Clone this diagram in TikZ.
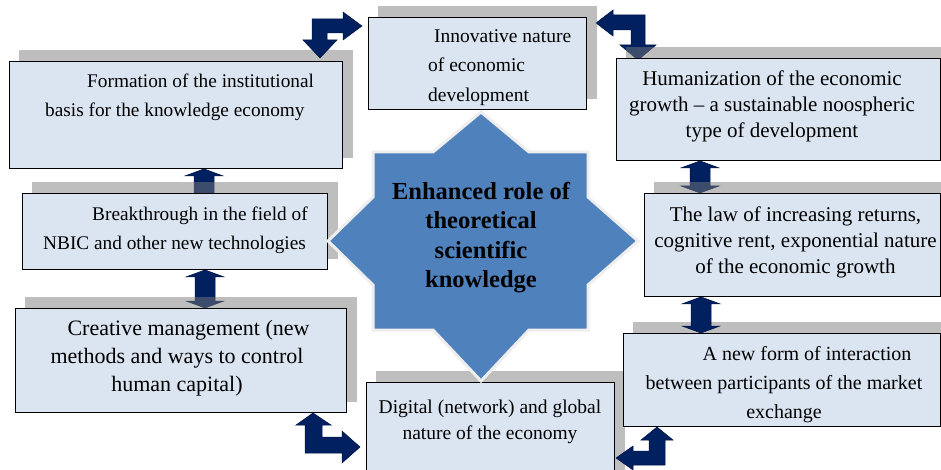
\documentclass[tikz,border=0pt]{standalone}
\usepackage{fontspec}
\setmainfont{Liberation Serif}
\usetikzlibrary{calc}
\definecolor{boxfill}{HTML}{DBE5F1}
\definecolor{navyfill}{HTML}{002060}
\definecolor{navyline}{HTML}{001540}
\definecolor{starblue}{HTML}{4F81BD}
\definecolor{shadowgray}{HTML}{7B7B7B}
\definecolor{starline}{HTML}{EEEEEE}
\pgfdeclarelayer{under}
\pgfdeclarelayer{shadows}
\pgfdeclarelayer{over}
\pgfsetlayers{under,shadows,over,main}
\tikzset{
  infobox/.style={draw=black, line width=0.9pt, fill=boxfill, anchor=north west, inner sep=0pt},
  boxshade/.style={fill=shadowgray, fill opacity=0.49},
  blockarrow/.style={fill=navyfill, draw=navyline, line width=0.5pt, line join=miter},
  boxtext/.style={inner sep=0pt, text=black},
  starshape/.style={fill=starblue, draw=starline, line width=3pt, line join=miter},
}
\newcommand\vdblarrow[3][]{%
  \path[blockarrow,#1] let \p1=(#2), \p2=(#3) in
    (\x1,\y1) -- ({\x1+19pt},{\y1-7pt}) -- ({\x1+10pt},{\y1-7pt}) -- ({\x1+10pt},{\y2+7pt})
    -- ({\x1+19pt},{\y2+7pt}) -- (\x1,\y2) -- ({\x1-19pt},{\y2+7pt}) -- ({\x1-10pt},{\y2+7pt})
    -- ({\x1-10pt},{\y1-7pt}) -- ({\x1-19pt},{\y1-7pt}) -- cycle;}
\newcommand\dropshadow[1]{%
  \fill[boxshade] ($(#1.north west)+(10,-11)$) rectangle ($(#1.south east)+(10,-11)$);}
\begin{document}
\begin{tikzpicture}[x=1pt,y=-1pt]
\useasboundingbox (0,0) rectangle (941,470);
\clip (0,0) rectangle (941,470);

% boxes
\node[infobox, minimum width=218pt, minimum height=92pt] (A) at (368,17) {};
\node[infobox, minimum width=333pt, minimum height=107pt] (B) at (9,61) {};
\node[infobox, minimum width=324pt, minimum height=102pt] (C) at (616,58) {};
\node[infobox, minimum width=305pt, minimum height=76pt] (D) at (22,193) {};
\node[infobox, minimum width=296pt, minimum height=103pt] (E) at (644,193) {};
\node[infobox, minimum width=331pt, minimum height=104pt] (F) at (15,308) {};
\node[infobox, minimum width=317pt, minimum height=93pt] (G) at (623,333) {};
\node[infobox, minimum width=248pt, minimum height=100pt] (H) at (366,382) {};

% arrows below the shadows
\begin{pgfonlayer}{under}
  \vdblarrow{204,0 |- B.south}{$(204,0 |- D.north)+(0,14)$}
  \vdblarrow{205,0 |- D.south}{205,0 |- F.north}
  \vdblarrow{700,0 |- C.south}{700,0 |- E.north}
  % top-right bent arrow
  \path[blockarrow] (596,23) -- (613,10) -- (613,15) -- (645,15) -- (645,45) -- (656,45)
    -- (638,60) -- (620,45) -- (631,45) -- (631,30) -- (613,30) -- (613,36) -- cycle;
  % bottom-left bent arrow
  \path[blockarrow] (313,413) -- (331,425) -- (322,425) -- (322,437) -- (342,437) -- (342,431)
    -- (360,447) -- (342,463) -- (342,453) -- (305,453) -- (305,425) -- (296,425) -- cycle;
\end{pgfonlayer}

% shadows
\begin{pgfonlayer}{shadows}
  \dropshadow{A}\dropshadow{B}\dropshadow{C}\dropshadow{D}
  \dropshadow{E}\dropshadow{F}\dropshadow{G}\dropshadow{H}
\end{pgfonlayer}

% arrows above the shadows
\begin{pgfonlayer}{over}
  \vdblarrow{701,0 |- E.south}{701,0 |- G.north}
  % top-left bent arrow
  \path[blockarrow] (312,19) -- (343,19) -- (343,12) -- (362,26) -- (343,40) -- (343,33)
    -- (327,33) -- (327,40) -- (337,40) -- (320,58) -- (303,40) -- (312,40) -- cycle;
  % bottom-right bent arrow
  \path[blockarrow] (657,427) -- (673,440) -- (665,440) -- (665,465) -- (633,465) -- (633,470)
    -- (616,458) -- (633,446) -- (633,451) -- (649,451) -- (649,440) -- (641,440) -- cycle;
\end{pgfonlayer}

% central quad arrow
\path[starshape] (373,152) -- (433,152) -- (481,112) -- (529,152) -- (588,152) -- (588,197)
  -- (638,241) -- (588,285) -- (588,330) -- (529,330) -- (481,381) -- (433,330) -- (373,330)
  -- (373,285) -- (328,241) -- (373,197) -- cycle;
\node[boxtext, anchor=north, align=center, font=\fontsize{24.5}{29.5}\selectfont\bfseries] (K) at (481,182)
  {Enhanced role of\\theoretical\\scientific\\knowledge};

% texts
\node[boxtext, anchor=north west, align=left, font=\fontsize{19.5}{29.5}\selectfont] (tA) at (428,29.3)
  {\hspace*{6pt}Innovative nature\\of economic\\development};
\node[boxtext, anchor=north west, align=left, font=\fontsize{19.3}{29}\selectfont] (tB) at (45,73.4)
  {\hspace*{42pt}Formation of the institutional\\basis for the knowledge economy};
\node[boxtext, anchor=north, align=center, font=\fontsize{21}{26}\selectfont] (tC) at (772,70.6)
  {Humanization of the economic\\growth – a sustainable noospheric\\type of development};
\node[boxtext, anchor=north west, align=left, font=\fontsize{19.3}{29}\selectfont] (tD) at (43,206.4)
  {\hspace*{49pt}Breakthrough in the field of\\NBIC and other new technologies};
\node[boxtext, anchor=north, align=center, font=\fontsize{21}{26}\selectfont] (tE) at (795.5,206.6)
  {The law of increasing returns,\\cognitive rent, exponential nature\\of the economic growth};
\node[boxtext, anchor=north, align=center, font=\fontsize{22}{28}\selectfont] (tF) at (177,320.3)
  {\hspace*{23pt}Creative management (new\\methods and ways to control\\human capital)};
\node[boxtext, anchor=north, align=center, font=\fontsize{20}{29}\selectfont] (tG) at (784,346)
  {\hspace*{46pt}A new form of interaction\\between participants of the market\\exchange};
\node[boxtext, anchor=north, align=center, font=\fontsize{19.5}{26}\selectfont] (tH) at (490,400.2)
  {Digital (network) and global\\nature of the economy};
\end{tikzpicture}
\end{document}
